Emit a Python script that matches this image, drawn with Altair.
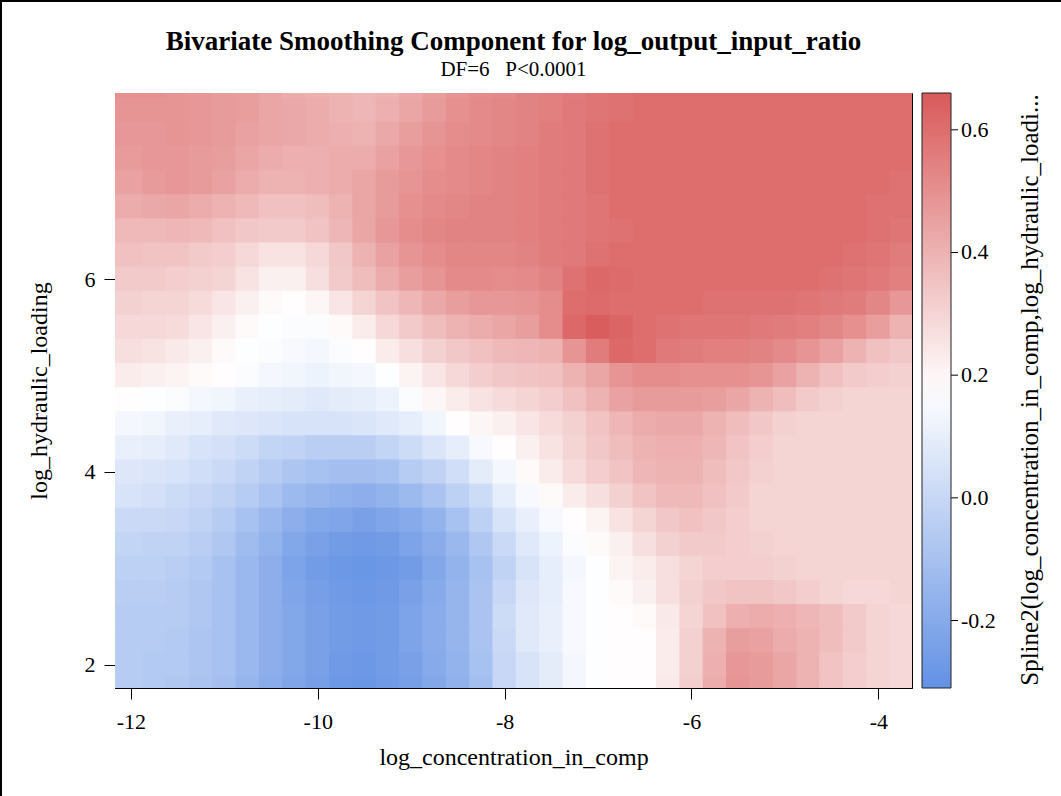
import altair as alt
import pandas as pd

# Fitted bivariate spline component on a 0.25 x 0.25 grid
x_centers = [-12.25, -12.0, -11.75, -11.5, -11.25, -11.0, -10.75, -10.5, -10.25,
             -10.0, -9.75, -9.5, -9.25, -9.0, -8.75, -8.5, -8.25, -8.0,
             -7.75, -7.5, -7.25, -7.0, -6.75, -6.5, -6.25, -6.0, -5.75,
             -5.5, -5.25, -5.0, -4.75, -4.5, -4.25, -4.0, -3.75]
y_centers = [8.0, 7.75, 7.5, 7.25, 7.0, 6.75, 6.5, 6.25, 6.0, 5.75, 5.5, 5.25,
             5.0, 4.75, 4.5, 4.25, 4.0, 3.75, 3.5, 3.25, 3.0, 2.75, 2.5, 2.25,
             2.0, 1.75]

z_800 = [.50, .50, .50, .49, .48, .47, .46, .44, .42, .41, .40, .39, .40, .43, .46, .49, .51, .52,
         .54, .55, .56, .58, .59, .60] + [.60] * 11
z_775 = [.49, .49, .49, .49, .48, .47, .46, .44, .43, .42, .40, .39, .41, .44, .47, .50, .52, .53,
         .54, .55, .57, .58, .59, .60] + [.60] * 11
z_750 = [.48, .48, .48, .49, .48, .47, .45, .44, .43, .42, .41, .40, .43, .46, .49, .51, .52, .53,
         .54, .56, .57, .59, .60, .60] + [.60] * 11
z_725 = [.47, .47, .48, .48, .47, .46, .44, .42, .41, .41, .42, .42, .45, .48, .50, .52, .53, .54,
         .55, .56, .57, .59, .60, .60] + [.60] * 11
z_700 = [.45, .45, .47, .48, .47, .45, .42, .40, .40, .41, .42, .44, .47, .49, .51, .52, .53, .54,
         .55, .56, .57, .59, .60, .60] + [.60] * 9 + [.60, .59]
z_675 = [.42, .42, .43, .44, .42, .40, .38, .36, .36, .37, .40, .44, .47, .50, .52, .53, .54, .54,
         .55, .56, .57, .58, .60, .60] + [.60] * 9 + [.59, .59]
z_650 = [.38, .38, .38, .39, .38, .36, .34, .33, .33, .35, .39, .44, .48, .51, .53, .54, .54, .54,
         .55, .56, .57, .58, .59, .60] + [.60] * 9 + [.59, .58]
z_625 = [.36, .36, .35, .35, .33, .32, .29, .26, .26, .29, .34, .40, .45, .49, .51, .53, .53, .53,
         .54, .56, .57, .59, .60, .60] + [.60] * 8 + [.59, .58, .56]
z_600 = [.33, .33, .33, .32, .31, .30, .26, .22, .22, .27, .33, .37, .42, .46, .49, .52, .52, .51,
         .52, .54, .59, .62, .61, .60] + [.60] * 7 + [.59, .58, .57, .55]
z_575 = [.31, .31, .30, .30, .28, .25, .22, .19, .18, .20, .25, .30, .35, .39, .43, .46, .48, .48,
         .49, .51, .60, .61, .60, .60, .60, .60, .59, .59, .59, .59, .58, .57, .56, .53, .48]
z_550 = [.29, .29, .29, .28, .25, .22, .19, .17, .16, .16, .19, .23, .29, .33, .37, .40, .42, .44,
         .46, .51, .62, .65, .63, .60, .59, .58, .58, .58, .57, .56, .55, .53, .50, .46, .40]
z_525 = [.27, .27, .26, .24, .22, .19, .17, .16, .15, .14, .16, .18, .23, .27, .31, .34, .36, .38,
         .39, .40, .49, .56, .62, .60, .57, .56, .55, .55, .54, .52, .49, .45, .40, .36, .34]
z_500 = [.23, .23, .22, .21, .19, .18, .16, .14, .13, .12, .13, .14, .17, .21, .25, .29, .32, .34,
         .35, .36, .40, .44, .49, .51, .51, .50, .50, .50, .49, .45, .40, .36, .33, .32, .31]
z_475 = [.18, .18, .17, .16, .14, .13, .11, .10, .09, .08, .09, .10, .12, .16, .20, .23, .26, .28,
         .30, .32, .36, .40, .45, .47, .47, .47, .46, .44, .40, .37, .33, .31, .30, .30, .30]
z_450 = [.14, .14, .13, .11, .10, .08, .07, .06, .05, .05, .05, .06, .08, .10, .13, .18, .20, .22,
         .25, .28, .31, .35, .39, .42, .43, .43, .40, .37, .34, .31, .30, .30, .30, .30, .30]
z_425 = [.11, .11, .10, .08, .05, .04, .02, -.01, -.02, -.04, -.04, -.04, -.01, .02, .06, .10, .15, .18,
         .22, .26, .30, .34, .37, .40, .41, .41, .39, .35, .32, .30, .30, .30, .30, .30, .30]
z_400 = [.07, .07, .06, .05, .03, .01, -.02, -.05, -.08, -.10, -.11, -.11, -.10, -.05, -.02, .03, .09, .14,
         .19, .23, .28, .32, .35, .39, .40, .40, .37, .34, .31, .30, .30, .30, .30, .30, .30]
z_375 = [.05, .05, .04, .02, .00, -.02, -.05, -.09, -.13, -.15, -.17, -.18, -.16, -.13, -.09, -.03, .02, .10,
         .15, .19, .23, .27, .31, .35, .38, .38, .36, .33, .30, .30, .30, .30, .30, .30, .30]
z_350 = [.01, .01, .01, .00, -.02, -.05, -.10, -.14, -.18, -.21, -.22, -.24, -.22, -.20, -.16, -.10, -.03, .05,
         .11, .15, .18, .21, .26, .30, .34, .36, .34, .32, .30, .30, .30, .30, .30, .30, .30]
z_325 = [-.01, -.01, -.02, -.02, -.04, -.07, -.12, -.16, -.21, -.24, -.26, -.27, -.26, -.23, -.19, -.14, -.07, .01,
         .08, .12, .16, .19, .22, .27, .31, .33, .33, .32, .31, .30, .30, .30, .30, .30, .30]
z_300 = [-.03, -.03, -.03, -.04, -.06, -.10, -.14, -.18, -.23, -.26, -.28, -.29, -.28, -.26, -.21, -.16, -.10, -.02,
         .05, .10, .14, .17, .21, .23, .27, .30, .32, .32, .32, .31, .30, .30, .30, .30, .30]
z_275 = [-.04, -.04, -.04, -.05, -.07, -.10, -.14, -.18, -.22, -.25, -.27, -.28, -.27, -.24, -.20, -.15, -.09, .00,
         .07, .10, .15, .17, .19, .22, .27, .31, .34, .35, .35, .34, .32, .30, .29, .29, .30]
z_250 = [-.05, -.05, -.05, -.05, -.07, -.10, -.14, -.18, -.21, -.24, -.26, -.27, -.26, -.23, -.19, -.15, -.09, .02,
         .08, .11, .15, .17, .18, .19, .24, .30, .36, .41, .42, .41, .39, .37, .33, .30, .29]
z_225 = [-.05, -.05, -.05, -.06, -.08, -.10, -.14, -.18, -.21, -.24, -.26, -.27, -.26, -.23, -.19, -.15, -.09, .01,
         .08, .11, .15, .17, .18, .18, .23, .31, .40, .46, .45, .42, .40, .37, .33, .30, .29]
z_200 = [-.05, -.05, -.06, -.06, -.08, -.10, -.14, -.18, -.21, -.24, -.27, -.28, -.26, -.24, -.20, -.16, -.10, .00,
         .05, .09, .14, .17, .18, .18, .23, .31, .41, .48, .47, .44, .40, .35, .32, .30, .29]
z_175 = [-.05, -.05, -.06, -.07, -.09, -.11, -.15, -.19, -.22, -.25, -.28, -.29, -.27, -.25, -.21, -.17, -.11, .00,
         .05, .09, .14, .17, .18, .18, .24, .32, .42, .49, .47, .44, .40, .35, .32, .30, .29]

rows = [z_800, z_775, z_750, z_725, z_700, z_675, z_650, z_625, z_600, z_575,
        z_550, z_525, z_500, z_475, z_450, z_425, z_400, z_375, z_350, z_325,
        z_300, z_275, z_250, z_225, z_200, z_175]

x_ticks = [-12, -10, -8, -6, -4]
y_ticks = [2, 4, 6]
legend_ticks = [-0.2, 0.0, 0.2, 0.4, 0.6]
legend_title = "Spline2(log_concentration_in_comp,log_hydraulic_loadi..."
color_domain = [-0.31, 0.175, 0.66]

# cells are drawn a hair wider than the grid step so no seams show between them
half = 0.13
records = []
for yc, row in zip(y_centers, rows):
    for xc, v in zip(x_centers, row):
        records.append({"x0": xc - half, "x1": xc + half,
                        "y0": yc - half, "y1": yc + half, "spline": v})
df = pd.DataFrame(records)
one = pd.DataFrame({"caption": [legend_title]})
bar_ticks = pd.DataFrame({"tick": legend_ticks})

serif = "Liberation Serif"
ramp = alt.Scale(domain=color_domain,
                 range=["#6391E4", "#FFFFFF", "#D95A5A"],
                 interpolate="rgb")

heat = alt.Chart(df).mark_rect(clip=True).encode(
    x=alt.X("x0:Q",
            scale=alt.Scale(domain=[-12.17, -3.64], nice=False, zero=False),
            axis=alt.Axis(title="log_concentration_in_comp", values=x_ticks,
                          labelExpr="replace(format(datum.value, 'd'), '\u2212', '-')",
                          labelPadding=12, titlePadding=13)),
    x2="x1:Q",
    y=alt.Y("y0:Q",
            scale=alt.Scale(domain=[1.76, 7.93], nice=False, zero=False),
            axis=alt.Axis(title="log_hydraulic_loading", values=y_ticks,
                          labelExpr="format(datum.value, 'd')",
                          labelPadding=9, titlePadding=33)),
    y2="y1:Q",
    color=alt.Color(
        "spline:Q", scale=ramp,
        legend=alt.Legend(
            type="gradient", title=None,
            values=legend_ticks,
            labelExpr="replace(format(datum.value, '.1f'), '\u2212', '-')",
            orient="right", direction="vertical", offset=10, padding=0,
            gradientLength=595, gradientThickness=29,
            gradientStrokeColor="#222222", gradientStrokeWidth=1,
            labelOffset=10, labelFont=serif, labelFontSize=22,
            labelColor="black", labelOverlap=False)),
)

# Small tick marks on the right edge of the colour bar
bar_tick_marks = alt.Chart(bar_ticks).mark_rule(color="black", strokeWidth=1).encode(
    y=alt.Y("tick:Q",
            scale=alt.Scale(domain=[color_domain[0], color_domain[-1]],
                            nice=False, zero=False),
            axis=None),
    x=alt.value(836), x2=alt.value(843))

# Colour-bar caption, reading upward beside the legend labels
bar_caption = alt.Chart(one).mark_text(
    angle=270, font=serif, fontSize=25, color="black",
    align="center", baseline="middle").encode(
    text="caption:N", x=alt.value(915), y=alt.value(297))

# Outer frame of the graph (top and left edges)
frame_top = alt.Chart(one).mark_rule(color="black", strokeWidth=2).encode(
    x=alt.value(-115), x2=alt.value(946), y=alt.value(-92))
frame_left = alt.Chart(one).mark_rule(color="black", strokeWidth=2).encode(
    x=alt.value(-114), y=alt.value(-93), y2=alt.value(703))

chart = alt.layer(heat, bar_tick_marks, bar_caption, frame_top, frame_left).resolve_scale(
    y="independent"
).properties(
    width=797, height=595,
    background="white",
    autosize=alt.AutoSizeParams(type="none"),
    padding={"left": 115, "top": 93, "right": 149, "bottom": 108},
    title=alt.TitleParams(
        text="Bivariate Smoothing Component for log_output_input_ratio",
        subtitle="DF=6\u00a0\u00a0\u00a0P<0.0001",
        font=serif, fontSize=27, fontWeight="bold", color="black",
        subtitleFont=serif, subtitleFontSize=21, subtitleColor="black",
        subtitlePadding=3, anchor="middle", offset=0, dy=82),
).configure_view(
    stroke="black", strokeWidth=1
).configure_axis(
    labelFont=serif, labelFontSize=22, labelColor="black",
    titleFont=serif, titleFontSize=24, titleFontWeight="normal",
    titleColor="black", domainColor="black", tickColor="black",
    tickSize=11, grid=False
)

chart.save("out.html", embed_options={"renderer": "svg", "actions": False})
